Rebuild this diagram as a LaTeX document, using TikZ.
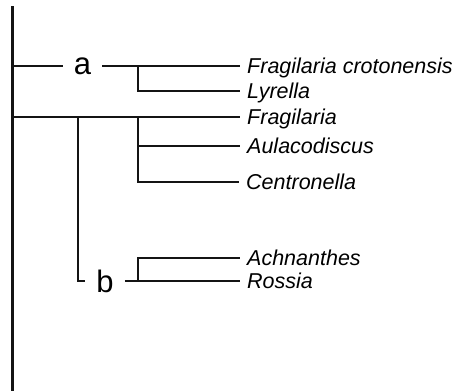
\documentclass[tikz,border=0pt]{standalone}
\usepackage{fontspec}
\setmainfont{Liberation Sans}
\definecolor{branch}{RGB}{20,20,20}

\tikzset{
  taxon/.style={anchor=west, inner xsep=7pt, inner ysep=0pt, text height=15pt, text depth=0pt,
    font=\fontsize{21.5}{25}\selectfont\itshape},
  clade/.style={inner xsep=11pt, font=\fontsize{31}{36}\selectfont},
  branchline/.style={draw=branch, line width=2.4pt}
}

\begin{document}
\begin{tikzpicture}[x=1pt, y=-1pt]
    \useasboundingbox (0,0) rectangle (452,391);
    % taxa
    \node[taxon] (fcro) at (240,66) {Fragilaria crotonensis};
    \node[taxon] (lyre) at (240,91) {Lyrella};
    \node[taxon] (frag) at (240,117) {Fragilaria};
    \node[taxon] (aula) at (240,146) {Aulacodiscus};
    \node[taxon] (cent) at (239,182) {Centronella};
    \node[taxon] (achn) at (240,258) {Achnanthes};
    \node[taxon] (ross) at (240,281) {Rossia};
    % clade labels
    \node[clade] (a) at (82.5,66) {a};
    \node[clade] (b) at (105,281) {b};
    % root and branch points
    \coordinate (top) at (12.5,6);
    \coordinate (bottom) at (12.5,391);
    \coordinate (na) at (138,66);
    \coordinate (nfrag) at (138,117);
    \coordinate (nb) at (78,117);
    \coordinate (nross) at (138,281);
    \draw[branchline] (top) -- (bottom);
    \draw[branchline] (top |- a.west) -- (a.west);
    \draw[branchline] (a.east) -- (fcro.west);
    \draw[branchline] (na) |- (lyre.west);
    \draw[branchline] (top |- frag.west) -- (frag.west);
    \draw[branchline] (nfrag) |- (aula.west);
    \draw[branchline] (nfrag) |- (cent.west);
    \draw[branchline] (nb) |- (b.west);
    \draw[branchline] (b.east) -- (ross.west);
    \draw[branchline] (nross) |- (achn.west);
\end{tikzpicture}
\end{document}
